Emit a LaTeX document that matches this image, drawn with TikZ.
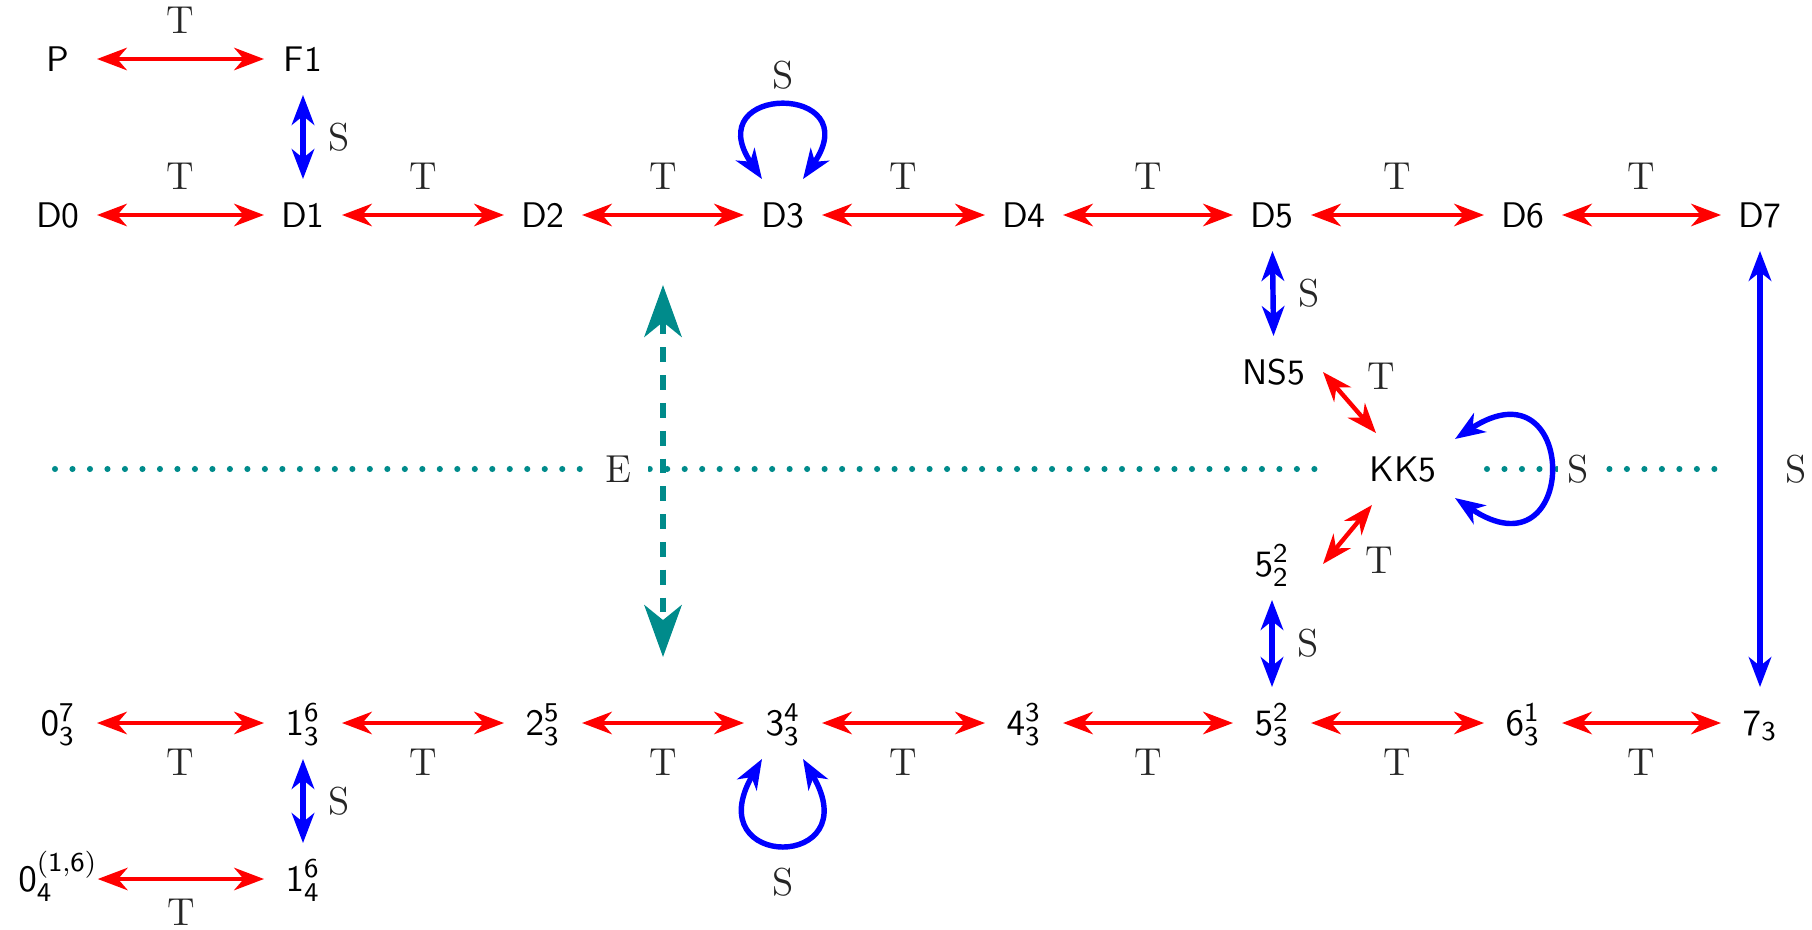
\documentclass[tikz,border=0pt]{standalone}
\usetikzlibrary{arrows.meta,calc}
\DeclareMathSizes{10.5}{10.5}{8}{6}
\definecolor{tealc}{RGB}{0,139,139}
\begin{document}
\begin{tikzpicture}[x=0.295pt,y=-0.295pt,
  nd/.style={font=\fontsize{10.5}{12}\selectfont\sffamily, inner sep=0pt, outer sep=0pt,
    minimum width=23pt, minimum height=21.2pt, text height=7.3pt, text depth=0pt},
  lab/.style={font=\fontsize{11.5}{13}\selectfont, inner sep=0pt, text=black!85},
  tarr/.style={red, line width=1.3pt,
    {Stealth[length=8.8pt,width=6.6pt,inset=2.8pt]}-{Stealth[length=8.8pt,width=6.6pt,inset=2.8pt]}},
  sarr/.style={blue, line width=1.6pt,
    {Stealth[length=8.8pt,width=6.6pt,inset=2.6pt]}-{Stealth[length=8.8pt,width=6.6pt,inset=2.6pt]}},
  earr/.style={tealc, line width=1.8pt, dash pattern=on 4.4pt off 3.8pt,
    {Stealth[length=15.3pt,width=11pt,inset=4.4pt]}-{Stealth[length=15.3pt,width=11pt,inset=4.4pt]}},
  dotline/.style={tealc, line width=1.8pt, line cap=round, dash pattern=on 0pt off 5.16pt}
]
\useasboundingbox (0,0) rectangle (1812,929);

% nodes
\node[nd] (P)  at (58,59)  {P};
\node[nd] (F1) at (303,59) {F1};

\node[nd] (D0) at (58,215)   {D0};
\node[nd] (D1) at (303,215)  {D1};
\node[nd] (D2) at (543,215)  {D2};
\node[nd] (D3) at (783,215)  {D3};
\node[nd] (D4) at (1024,215) {D4};
\node[nd] (D5) at (1272,215) {D5};
\node[nd] (D6) at (1523,215) {D6};
\node[nd] (D7) at (1760,215) {D7};

\node[nd] (NS5) at (1274,372) {NS5};
\node[nd] (KK5) at (1403,469) {KK5};
\node[nd] (N52) at (1272,564) {$\mathsf{5}^{\mathsf{2}}_{\mathsf{2}}$};

\node[nd] (B0) at (58,723)   {$\mathsf{0}^{\mathsf{7}}_{\mathsf{3}}$};
\node[nd] (B1) at (303,723)  {$\mathsf{1}^{\mathsf{6}}_{\mathsf{3}}$};
\node[nd] (B2) at (543,723)  {$\mathsf{2}^{\mathsf{5}}_{\mathsf{3}}$};
\node[nd] (B3) at (783,723)  {$\mathsf{3}^{\mathsf{4}}_{\mathsf{3}}$};
\node[nd] (B4) at (1024,723) {$\mathsf{4}^{\mathsf{3}}_{\mathsf{3}}$};
\node[nd] (B5) at (1272,723) {$\mathsf{5}^{\mathsf{2}}_{\mathsf{3}}$};
\node[nd] (B6) at (1523,723) {$\mathsf{6}^{\mathsf{1}}_{\mathsf{3}}$};
\node[nd] (B7) at (1760,723) {$\mathsf{7}_{\mathsf{3}}$};

\node[nd] (C0) at (58,879)  {$\mathsf{0}^{(\mathsf{1},\mathsf{6})}_{\mathsf{4}}$};
\node[nd] (C1) at (303,879) {$\mathsf{1}^{\mathsf{6}}_{\mathsf{4}}$};

% dotted line
\coordinate (dL) at (55,469);
\coordinate (dR) at (1728,469);
\draw[dotline] (dL) -- ($(KK5.west)+(-37,0)$);
\draw[dotline] ($(KK5.east)+(45,0)$) -- (dR);
\node[lab, fill=white, minimum width=17.7pt, minimum height=12pt] (Elab) at (618,469) {E};
\node[lab, fill=white, minimum width=12pt, minimum height=12pt] (Skk) at (1578,469) {S};

% E arrow
\coordinate (Et) at (663,285);
\coordinate (Eb) at (663,657);
\draw[earr] (Et) -- (Eb);

% red T arrows
\draw[tarr] (P) -- node[lab, above=7pt]{T} (F1);
\draw[tarr] (D0) -- node[lab, above=7pt]{T} (D1);
\draw[tarr] (D1) -- node[lab, above=7pt]{T} (D2);
\draw[tarr] (D2) -- node[lab, above=7pt]{T} (D3);
\draw[tarr] (D3) -- node[lab, above=7pt]{T} (D4);
\draw[tarr] (D4) -- node[lab, above=7pt]{T} (D5);
\draw[tarr] (D5) -- node[lab, above=7pt]{T} (D6);
\draw[tarr] (D6) -- node[lab, above=7pt]{T} (D7);

\draw[tarr] (B0) -- node[lab, below=7pt]{T} (B1);
\draw[tarr] (B1) -- node[lab, below=7pt]{T} (B2);
\draw[tarr] (B2) -- node[lab, below=7pt]{T} (B3);
\draw[tarr] (B3) -- node[lab, below=7pt]{T} (B4);
\draw[tarr] (B4) -- node[lab, below=7pt]{T} (B5);
\draw[tarr] (B5) -- node[lab, below=7pt]{T} (B6);
\draw[tarr] (B6) -- node[lab, below=7pt]{T} (B7);
\draw[tarr] (C0) -- node[lab, below=5.3pt]{T} (C1);

\draw[tarr] ($(NS5.east)+(10,0)$) -- node[lab, midway, xshift=9.4pt, yshift=7.7pt]{T} ($(KK5.north west)+(12,0)$);
\draw[tarr] ($(KK5.south west)+(8,0)$) -- node[lab, midway, xshift=9.4pt, yshift=-7.7pt]{T} ($(N52.east)+(12,0)$);

% blue S arrows
\draw[sarr] (F1) -- node[lab, right=6.8pt]{S} (D1);
\draw[sarr] (D5) -- node[lab, right=6.8pt]{S} (NS5);
\draw[sarr] (N52) -- node[lab, right=6.8pt]{S} (B5);
\draw[sarr] (B1) -- node[lab, right=6.8pt]{S} (C1);
\draw[sarr] (D7) -- node[lab, right=6.8pt]{S} (B7);

% loops
\draw[sarr] ($(D3.north)+(-21,0)$) .. controls +(-65,-96) and +(66,-96) .. ($(D3.north)+(20,0)$);
\node[lab] (SD3) at (783,75) {S};
\draw[sarr] ($(B3.south)+(-21,0)$) .. controls +(-65,112) and +(66,112) .. ($(B3.south)+(20,0)$);
\node[lab] (SB3) at (783,882) {S};
\draw[sarr] ($(KK5.east)+(13,-30)$) .. controls +(125,-82) and +(125,84) .. ($(KK5.east)+(13,29)$);
\end{tikzpicture}
\end{document}
